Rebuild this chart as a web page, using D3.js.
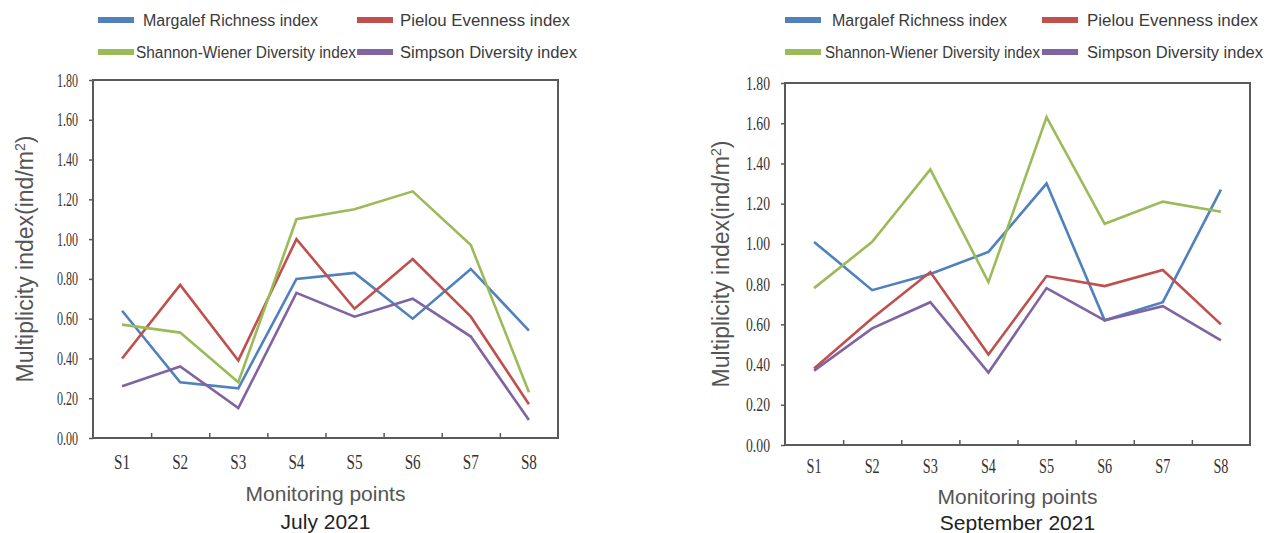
<!DOCTYPE html>
<html>
<head>
<meta charset="utf-8">
<script src="https://cdn.jsdelivr.net/npm/d3@7/dist/d3.min.js"></script>
<style>
  body { margin: 0; background: #fff; }
  svg { display: block; }
</style>
</head>
<body>
<svg id="chart"></svg>
<script>
// Constant Values
const width = 1273;
const height = 533;

// Categories and series
const sites = ["S1", "S2", "S3", "S4", "S5", "S6", "S7", "S8"];
const seriesNames = ["Margalef Richness index", "Pielou Evenness index", "Shannon-Wiener Diversity index", "Simpson Diversity index"];
const seriesColors = ["#4f81bd", "#c0504d", "#9bbb59", "#8064a2"];
const yTicks = [0, 0.2, 0.4, 0.6, 0.8, 1.0, 1.2, 1.4, 1.6, 1.8];

// July 2021
const julyMargalef = [0.64, 0.28, 0.25, 0.80, 0.83, 0.60, 0.85, 0.54];
const julyPielou   = [0.40, 0.77, 0.39, 1.00, 0.65, 0.90, 0.61, 0.17];
const julyShannon  = [0.57, 0.53, 0.28, 1.10, 1.15, 1.24, 0.97, 0.23];
const julySimpson  = [0.26, 0.36, 0.15, 0.73, 0.61, 0.70, 0.51, 0.09];

// September 2021
const sepMargalef = [1.01, 0.77, 0.85, 0.96, 1.30, 0.62, 0.71, 1.27];
const sepPielou   = [0.38, 0.63, 0.86, 0.45, 0.84, 0.79, 0.87, 0.60];
const sepShannon  = [0.78, 1.01, 1.37, 0.81, 1.63, 1.10, 1.21, 1.16];
const sepSimpson  = [0.37, 0.58, 0.71, 0.36, 0.78, 0.62, 0.69, 0.52];

// Layout of the two panels (positions only)
const panels = [
    {
        title: "July 2021",
        series: [julyMargalef, julyPielou, julyShannon, julySimpson],
        frame: { left: 93, right: 558, top: 80, bottom: 438 },
        yLabelLen: 21, xLabelLen: 16, xLabelPad: 17,
        yTitleX: 25, xTitleY: 501, titleY: 529,
        legend: [
            { x: 98, y: 20, tx: 143, len: 175 },
            { x: 357, y: 20, tx: 400, len: 170 },
            { x: 98, y: 52, tx: 136, len: 220 },
            { x: 357, y: 52, tx: 400, len: 177 }
        ]
    },
    {
        title: "September 2021",
        series: [sepMargalef, sepPielou, sepShannon, sepSimpson],
        frame: { left: 785, right: 1250, top: 83, bottom: 445 },
        yLabelLen: 24, xLabelLen: 15, xLabelPad: 14,
        yTitleX: 721, xTitleY: 504, titleY: 530,
        legend: [
            { x: 785, y: 20, tx: 832, len: 175 },
            { x: 1042, y: 20, tx: 1087, len: 171 },
            { x: 785, y: 52, tx: 825, len: 215 },
            { x: 1042, y: 52, tx: 1087, len: 176 }
        ]
    }
];

const svg = d3.select("#chart")
    .attr("width", width)
    .attr("height", height);

panels.forEach(drawPanel);

function drawPanel(p) {
    const f = p.frame;
    const g = svg.append("g");

    // Scales
    const xScale = d3.scaleBand()
        .domain(sites)
        .range([f.left, f.right]);

    const xEdge = d3.scaleLinear()
        .domain([0, sites.length])
        .range([f.left, f.right]);

    const yScale = d3.scaleLinear()
        .domain([0, 1.8])
        .range([f.bottom, f.top]);

    // Frame
    g.append("rect")
        .attr("x", f.left)
        .attr("y", f.top)
        .attr("width", f.right - f.left)
        .attr("height", f.bottom - f.top)
        .attr("fill", "none")
        .attr("stroke", "#5a5a5a")
        .attr("stroke-width", 2);

    // Y axis
    const yAxis = g.append("g")
        .attr("transform", `translate(${f.left}, 0)`)
        .call(d3.axisLeft(yScale).tickValues(yTicks).tickFormat(d3.format(".2f")).tickSize(4).tickPadding(11));
    yAxis.select(".domain").remove();
    yAxis.selectAll("line").attr("stroke", "#5a5a5a").attr("stroke-width", 1.5);
    yAxis.selectAll("text")
        .attr("fill", "#333")
        .style("font-family", "Liberation Serif")
        .style("font-size", "19px")
        .attr("textLength", p.yLabelLen)
        .attr("lengthAdjust", "spacingAndGlyphs");

    // X axis labels
    const xAxis = g.append("g")
        .attr("transform", `translate(0, ${f.bottom})`)
        .call(d3.axisBottom(xScale).tickSize(0).tickPadding(p.xLabelPad));
    xAxis.select(".domain").remove();
    xAxis.selectAll("text")
        .attr("fill", "#333")
        .style("font-family", "Liberation Serif")
        .style("font-size", "20px")
        .attr("textLength", p.xLabelLen)
        .attr("lengthAdjust", "spacingAndGlyphs");

    // X axis inner ticks at category boundaries
    const xTicks = g.append("g")
        .attr("transform", `translate(0, ${f.bottom})`)
        .call(d3.axisBottom(xEdge).tickValues(d3.range(1, sites.length)).tickSize(-5).tickFormat(""));
    xTicks.select(".domain").remove();
    xTicks.selectAll("line").attr("stroke", "#5a5a5a").attr("stroke-width", 1.5);

    // Lines
    const line = d3.line()
        .x((d, i) => xScale(sites[i]) + xScale.bandwidth() / 2)
        .y(d => yScale(d));

    p.series.forEach((values, k) => {
        g.append("path")
            .datum(values)
            .attr("fill", "none")
            .attr("stroke", seriesColors[k])
            .attr("stroke-width", 2.6)
            .attr("stroke-linejoin", "miter")
            .attr("d", line);
    });

    // Legend
    p.legend.forEach((pos, k) => {
        g.append("rect")
            .attr("x", pos.x)
            .attr("y", pos.y - 3)
            .attr("width", 36)
            .attr("height", 6)
            .attr("fill", seriesColors[k]);
        g.append("text")
            .attr("x", pos.tx)
            .attr("y", pos.y + 6)
            .attr("textLength", pos.len)
            .attr("lengthAdjust", "spacingAndGlyphs")
            .style("font-family", "Liberation Sans")
            .style("font-size", "16px")
            .attr("fill", "#3a3a3a")
            .text(seriesNames[k]);
    });

    // Y axis title
    const yTitle = g.append("text")
        .attr("transform", `translate(${p.yTitleX}, ${(f.top + f.bottom) / 2}) rotate(-90)`)
        .attr("text-anchor", "middle")
        .attr("dy", "0.35em")
        .style("font-family", "Liberation Sans")
        .style("font-size", "23px")
        .attr("fill", "#555");
    yTitle.append("tspan").text("Multiplicity index(ind/m");
    yTitle.append("tspan").attr("baseline-shift", "super").style("font-size", "14px").text("2");
    yTitle.append("tspan").text(")");

    // X axis title
    g.append("text")
        .attr("x", (f.left + f.right) / 2)
        .attr("y", p.xTitleY)
        .attr("text-anchor", "middle")
        .style("font-family", "Liberation Sans")
        .style("font-size", "21px")
        .attr("fill", "#555")
        .text("Monitoring points");

    // Panel caption
    g.append("text")
        .attr("x", (f.left + f.right) / 2)
        .attr("y", p.titleY)
        .attr("text-anchor", "middle")
        .style("font-family", "Liberation Sans")
        .style("font-size", "21px")
        .attr("fill", "#222")
        .text(p.title);
}
</script>
</body>
</html>
